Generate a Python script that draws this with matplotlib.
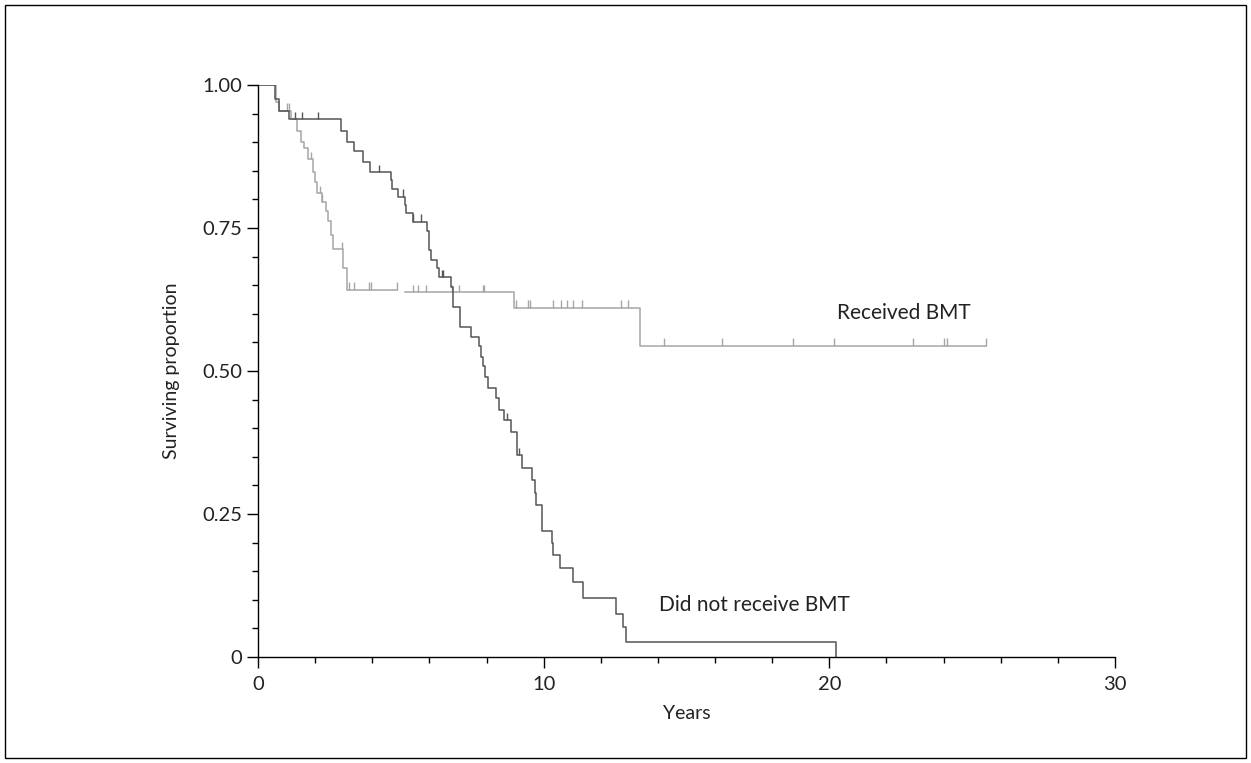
import numpy as np
import matplotlib.pyplot as plt
from matplotlib.patches import Rectangle

# Kaplan-Meier steps (years, surviving proportion after each drop)
no_bmt_times = [0, 0.6, 0.75, 1.1, 2.9, 3.1, 3.35, 3.69, 3.92, 4.66, 4.70, 4.91, 5.14, 5.18,
                5.44, 5.90, 6.00, 6.06, 6.26, 6.35, 6.74, 6.82, 7.07, 7.46, 7.75, 7.80, 7.88,
                7.95, 8.06, 8.33, 8.45, 8.61, 8.84, 9.05, 9.08, 9.23, 9.58, 9.70, 9.72, 9.95,
                10.28, 10.32, 10.57, 11.04, 11.37, 12.53, 12.76, 12.88, 20.25]
no_bmt_surv = [1.0, 0.975, 0.955, 0.94, 0.92, 0.90, 0.885, 0.865, 0.848, 0.834, 0.819, 0.805,
               0.790, 0.776, 0.761, 0.744, 0.712, 0.694, 0.680, 0.664, 0.646, 0.612, 0.577,
               0.560, 0.543, 0.525, 0.508, 0.490, 0.470, 0.452, 0.432, 0.414, 0.394, 0.373,
               0.353, 0.330, 0.309, 0.287, 0.266, 0.221, 0.200, 0.178, 0.156, 0.131, 0.104,
               0.076, 0.053, 0.0257, 0.0]
no_bmt_censor = [1.3, 1.55, 2.1, 4.24, 5.06, 5.44, 5.70, 6.45, 6.49, 8.70, 9.14]

# received BMT curve is drawn in two pieces in the original (small gap near 5 years)
bmt_times_a = [0, 0.63, 0.75, 1.15, 1.35, 1.5, 1.6, 1.75, 1.93, 2.0, 2.05, 2.23, 2.38, 2.45,
               2.55, 2.61, 2.98, 3.13, 4.85]
bmt_surv_a = [1.0, 0.97, 0.955, 0.94, 0.92, 0.90, 0.89, 0.87, 0.848, 0.83, 0.811, 0.796, 0.779,
              0.762, 0.737, 0.713, 0.680, 0.642, 0.642]
bmt_times_b = [5.14, 8.96, 13.37, 25.47]
bmt_surv_b = [0.638, 0.611, 0.544, 0.544]
bmt_censor = [1.0, 1.1, 1.85, 2.17, 2.23, 2.93, 3.19, 3.36, 3.87, 3.95, 4.85, 5.41, 5.61, 5.88,
              6.80, 7.05, 7.89, 7.92, 9.02, 9.46, 9.52, 10.31, 10.61, 10.80, 11.04, 11.33,
              12.69, 12.96, 14.22, 16.23, 18.72, 20.16, 22.92, 24.01, 24.13, 25.47]

dark = '#555555'
light = '#a6a6a6'
txt = '#222222'


def surv_at(times, surv, t):
    i = np.searchsorted(times, t, side='right') - 1
    return surv[max(i, 0)]


def censor_marks(ax, t_list, pieces, color):
    for t in t_list:
        for times, surv in pieces:
            if times[0] <= t <= times[-1]:
                s = surv_at(np.array(times), surv, t)
                ax.vlines(t, s, s + 0.013, colors=color, lw=1.0)
                break


plt.rcParams['font.family'] = ['Lato', 'DejaVu Sans']

fig = plt.figure(figsize=(12.51, 7.63), dpi=100)
ax = fig.add_axes([258 / 1251, 1 - 657 / 763, (1115 - 258) / 1251, (657 - 85) / 763])

ax.step(bmt_times_a, bmt_surv_a, where='post', color=light, lw=1.1)
ax.step(bmt_times_b, bmt_surv_b, where='post', color=light, lw=1.1)
censor_marks(ax, bmt_censor, [(bmt_times_a, bmt_surv_a), (bmt_times_b, bmt_surv_b)], light)

ax.step(no_bmt_times, no_bmt_surv, where='post', color=dark, lw=1.1)
censor_marks(ax, no_bmt_censor, [(no_bmt_times, no_bmt_surv)], dark)

ax.text(20.27, 0.601, 'Received BMT', fontsize=15, color=txt, va='center', ha='left')
ax.text(14.04, 0.091, 'Did not receive BMT', fontsize=15, color=txt, va='center', ha='left')

ax.set_xlim(0, 30)
ax.set_ylim(0, 1)
ax.set_xticks([0, 10, 20, 30])
ax.set_xticks(np.arange(0, 31, 2), minor=True)
ax.set_yticks([0, 0.25, 0.5, 0.75, 1.0])
ax.set_yticklabels(['0', '0.25', '0.50', '0.75', '1.00'])
ax.set_yticks(np.arange(0, 1.001, 0.05), minor=True)
ax.tick_params(which='major', length=8, width=1, labelsize=14.5, colors='black', labelcolor=txt)
ax.tick_params(which='minor', length=4.5, width=1, colors='black')
ax.tick_params(axis='x', pad=6)
for side in ['top', 'right']:
    ax.spines[side].set_visible(False)
for side in ['left', 'bottom']:
    ax.spines[side].set_linewidth(1)
ax.patch.set_alpha(0)

ax.set_xlabel('Years', fontsize=14, color=txt, labelpad=8)
ax.set_ylabel('Surviving proportion', fontsize=14, color=txt, labelpad=16)

# outer frame around the whole figure
fig.patches.append(Rectangle((5 / 1251, 5 / 763), 1241 / 1251, 753 / 763, transform=fig.transFigure,
                             fill=False, edgecolor='black', lw=1))

fig.savefig('out.png', dpi=100)
